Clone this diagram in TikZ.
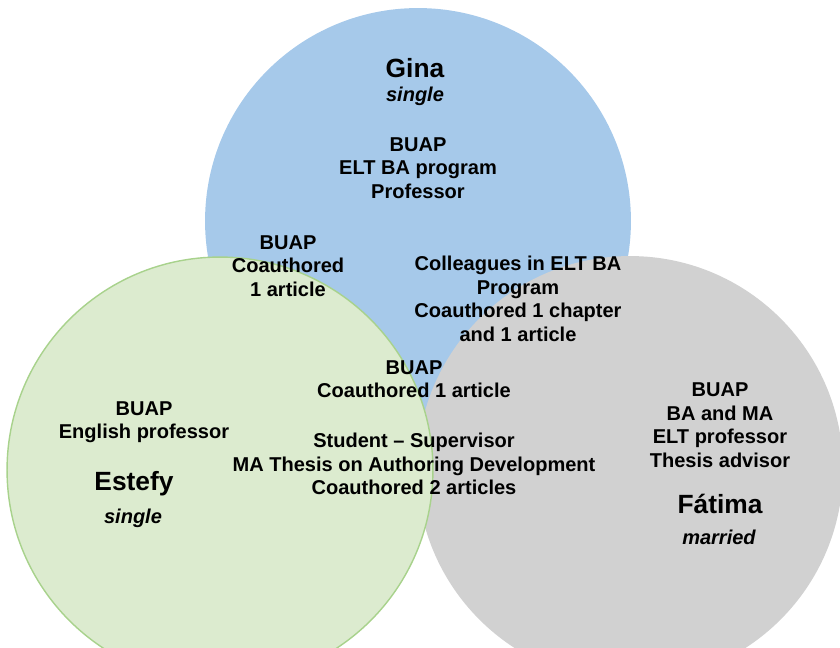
\documentclass[tikz,border=0pt]{standalone}
\usepackage{fontspec}
\setmainfont{Liberation Sans}
\usepackage{tikz}
\usetikzlibrary{shapes.geometric}
\definecolor{ginaBlue}{RGB}{166,201,234}
\definecolor{fatimaGray}{RGB}{209,209,209}
\definecolor{estefyGreen}{RGB}{220,235,207}
\definecolor{estefyLine}{RGB}{168,210,140}
\tikzstyle{setCircle} = [circle, minimum size=8.52cm, inner sep=0pt]
\tikzstyle{personName} = [font=\fontsize{15}{18}\selectfont\bfseries]
\tikzstyle{status} = [font=\fontsize{11.4}{13}\selectfont\bfseries\itshape]
\tikzstyle{info} = [align=center, font=\fontsize{11.4}{13.4}\selectfont\bfseries]

\begin{document}
\begin{tikzpicture}[x=0.02cm, y=-0.02cm]
				\useasboundingbox (0,0) rectangle (840,647);
				\clip (0,0) rectangle (840,647);
				\node (ginaSet) [setCircle, fill=ginaBlue] at (418,221) {};
				\node (fatimaSet) [setCircle, fill=fatimaGray] at (630,469) {};
				\node (estefySet) [setCircle, fill=estefyGreen, draw=estefyLine, line width=0.8pt] at (220,470) {};
				% Gina
				\node (gina) [personName] at (415,68) {Gina};
				\node (ginaStatus) [status] at (415,96) {single};
				\node (ginaInfo) [info] at (418,168) {BUAP\\ELT BA program\\Professor};
				% overlaps
				\node (ginaEstefy) [info] at (288,266) {BUAP\\Coauthored\\1 article};
				\node (ginaFatima) [info] at (518,299) {Colleagues in ELT BA\\Program\\Coauthored 1 chapter\\and 1 article};
				\node (allThree) [info] at (414,379) {BUAP\\Coauthored 1 article};
				\node (estefyFatima) [info] at (414,464) {Student -- Supervisor\\MA Thesis on Authoring Development\\Coauthored 2 articles};
				% Estefy
				\node (estefyInfo) [info] at (144,422) {BUAP\\English professor};
				\node (estefy) [personName] at (134,484) {Estefy};
				\node (estefyStatus) [status] at (133,518) {single};
				% Fatima
				\node (fatimaInfo) [info] at (720,425) {BUAP\\BA and MA\\ELT professor\\Thesis advisor};
				\node (fatima) [personName] at (720,504) {Fátima};
				\node (fatimaStatus) [status] at (719,537) {married};
			\end{tikzpicture}
\end{document}
